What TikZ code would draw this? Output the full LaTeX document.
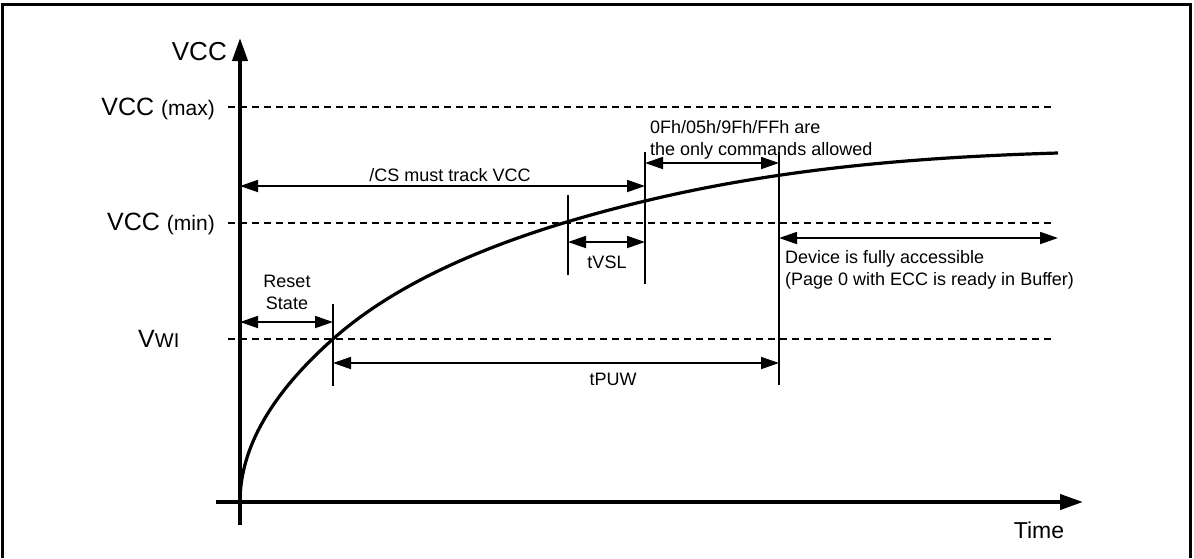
\documentclass[tikz,border=0pt]{standalone}
\usepackage{fontspec}
\setmainfont{Liberation Sans}
\usetikzlibrary{arrows.meta,positioning}

\begin{document}
\begin{tikzpicture}[x=1pt, y=-1pt,
  axis/.style={line width=4pt, -{Triangle[length=23pt,width=15pt]}},
  guide/.style={line width=1.3pt, dash pattern=on 7pt off 5pt},
  vline/.style={line width=1.8pt},
  dimarr/.style={line width=1.8pt, {Triangle[length=18pt,width=12pt]}-{Triangle[length=18pt,width=12pt]}},
  lab/.style={font=\fontsize{18}{22}\selectfont, inner sep=0pt},
  big/.style={font=\fontsize{25}{25}\selectfont, inner sep=0pt}
]
  \useasboundingbox (0,0) rectangle (1194,558);
  % frame, open at the bottom edge
  \draw[line width=3pt] (2,558) -- (2,4) -- (1190,4) -- (1190,558);

  % ---------------- level lines ----------------
  \coordinate (maxL) at (228,107);  \coordinate (maxR) at (1055,107);
  \coordinate (minL) at (228,223);  \coordinate (minR) at (1055,223);
  \coordinate (vwiL) at (228,339);  \coordinate (vwiR) at (1055,339);
  \draw[guide] (maxL) -- (maxR);
  \draw[guide] (minL) -- (minR);
  \draw[guide] (vwiL) -- (vwiR);
  \node[big, font=\fontsize{26}{26}\selectfont, anchor=base east] (vcclab) at (227,60) {VCC};
  \node[big, anchor=base east] (maxlab) at (215,115) {VCC {\fontsize{21}{21}\selectfont(max)}};
  \node[big, anchor=base east] (minlab) at (215,230) {VCC {\fontsize{21}{21}\selectfont(min)}};
  \node[big, anchor=base west] (vwilab) at (138,347) {V{\fontsize{20}{20}\selectfont WI}};

  % ---------------- axes ----------------
  \coordinate (ybot) at (240,525);  \coordinate (ytop) at (240,38);
  \coordinate (xl) at (216,502);    \coordinate (xr) at (1083,502);
  \draw[axis] (ybot) -- (ytop);
  \draw[axis] (xl) -- (xr);
  \node[big, font=\fontsize{23}{23}\selectfont, anchor=base] (timelab) at (1039,538) {Time};

  % ---------------- supply ramp ----------------
  \draw[line width=3.2pt] (240,502)
    .. controls (240,448.3) and (271,394) .. (333,339)
    .. controls (413,268) and (535,227.4) .. (645,201)
    .. controls (783,167.9) and (920,157.1) .. (1058,153);

  % ---------------- timing marks ----------------
  \coordinate (m1t) at (333,304);  \coordinate (m1b) at (333,386);
  \coordinate (m2t) at (568,195);  \coordinate (m2b) at (568,275);
  \coordinate (m3t) at (645,152);  \coordinate (m3b) at (645,284);
  \coordinate (m4t) at (779,152);  \coordinate (m4b) at (779,385);
  \draw[vline] (m1t) -- (m1b);
  \draw[vline] (m2t) -- (m2b);
  \draw[vline] (m3t) -- (m3b);
  \draw[vline] (m4t) -- (m4b);

  % ---------------- intervals ----------------
  \coordinate (rsL) at (240,322);  \coordinate (rsR) at (333,322);
  \coordinate (csL) at (240,186);  \coordinate (csR) at (645,186);
  \coordinate (cmL) at (645,163);  \coordinate (cmR) at (779,163);
  \coordinate (vsL) at (568,242);  \coordinate (vsR) at (645,242);
  \coordinate (puL) at (333,363);  \coordinate (puR) at (779,363);
  \coordinate (dvL) at (779,238);  \coordinate (dvR) at (1058,238);
  \draw[dimarr] (rsL) -- (rsR);
  \draw[dimarr] (csL) -- (csR);
  \draw[dimarr] (cmL) -- (cmR);
  \draw[dimarr] (vsL) -- (vsR);
  \draw[dimarr] (puL) -- (puR);
  \draw[dimarr] (dvL) -- (dvR);

  \node[lab, align=center, anchor=north] (rslab) at (287,275) {Reset\\State};
  \node[lab, anchor=base] (cslab) at (450,181) {/CS must track VCC};
  \node[lab, align=left, anchor=north west] (cmlab) at (650,120) {0Fh/05h/9Fh/FFh are\\the only commands allowed};
  \node[lab, anchor=base] (vslab) at (607,268) {tVSL};
  \node[lab, anchor=base] (pulab) at (613,385) {tPUW};
  \node[lab, align=left, anchor=north west] (dvlab) at (785,250) {Device is fully accessible\\(Page 0 with ECC is ready in Buffer)};
\end{tikzpicture}
\end{document}
